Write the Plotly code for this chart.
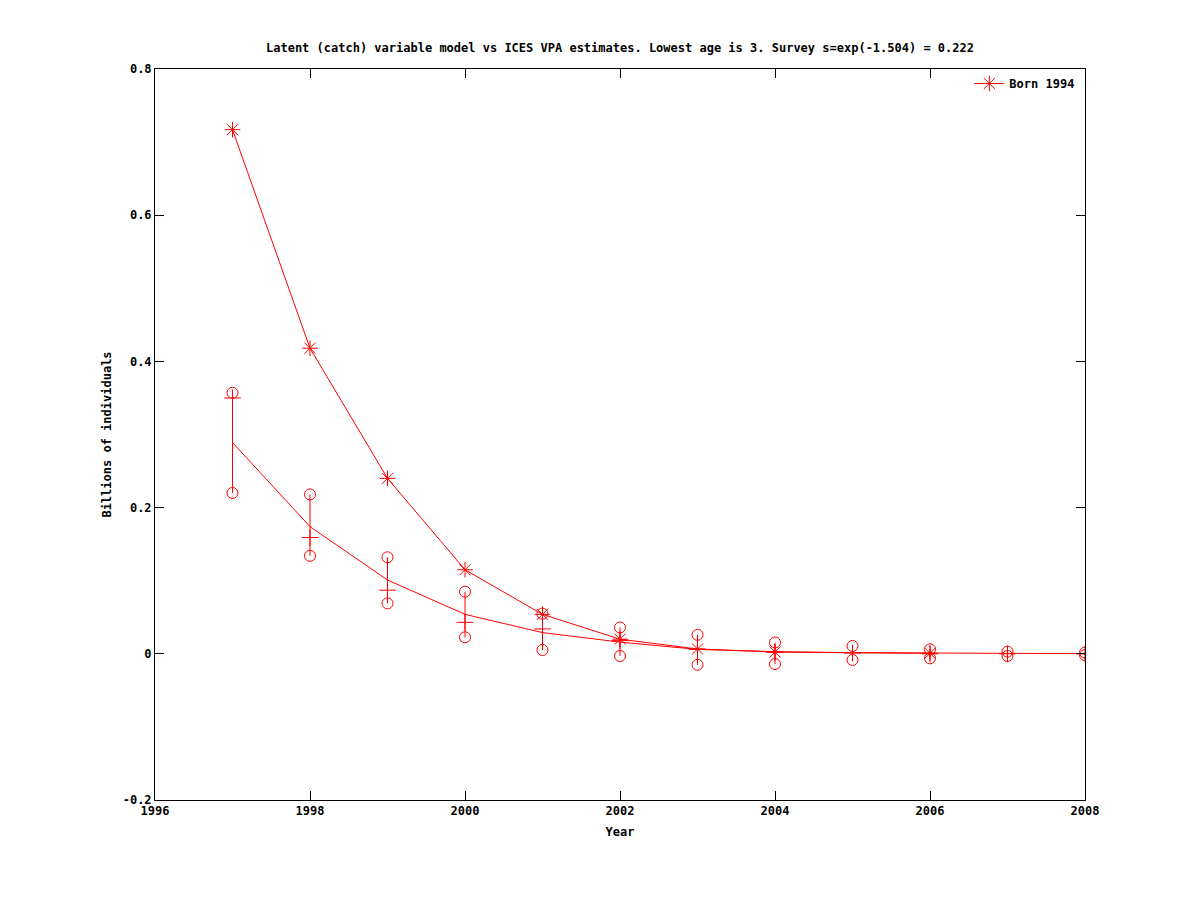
import plotly.graph_objects as go

years = [1997, 1998, 1999, 2000, 2001, 2002, 2003, 2004, 2005, 2006, 2007, 2008]

# Star series ("Born 1994")
star_vals = [0.717, 0.418, 0.240, 0.115, 0.054, 0.020, 0.0066, 0.0023, None, 0.0007, None, None]

# Model line (no markers)
model_vals = [0.289, 0.174, 0.101, 0.054, 0.029, 0.016, 0.006, 0.003, 0.0015, 0.0008, 0.0004, 0.0002]

# Centre estimates ("+" markers) and their interval bounds (circles)
centre_vals = [0.350, 0.159, 0.087, 0.043, 0.034, 0.018, 0.006, 0.002, 0.001, 0.0, 0.0, 0.0]
upper_vals = [0.357, 0.218, 0.132, 0.085, 0.055, 0.036, 0.026, 0.0155, 0.0107, 0.0062, 0.003, 0.0017]
lower_vals = [0.220, 0.134, 0.069, 0.0226, 0.0052, -0.003, -0.0151, -0.014, -0.0085, -0.0062, -0.003, -0.0017]

x_ticks = [1996, 1998, 2000, 2002, 2004, 2006, 2008]
y_ticks = [-0.2, 0.0, 0.2, 0.4, 0.6, 0.8]
y_tick_labels = ["-0.2", "0", "0.2", "0.4", "0.6", "0.8"]

RED = "#ff0000"
FONT = "DejaVu Sans Mono"

err_plus = [u - c for u, c in zip(upper_vals, centre_vals)]
err_minus = [c - l for c, l in zip(centre_vals, lower_vals)]

fig = go.Figure()

fig.add_trace(go.Scatter(
    x=years, y=model_vals, mode="lines",
    line=dict(color=RED, width=1), showlegend=False, hoverinfo="skip"))

fig.add_trace(go.Scatter(
    x=years, y=centre_vals, mode="markers",
    marker=dict(symbol="cross-thin", size=12, line=dict(color=RED, width=1), color=RED),
    error_y=dict(type="data", symmetric=False, array=err_plus, arrayminus=err_minus,
                 color=RED, thickness=1, width=0),
    showlegend=False))

fig.add_trace(go.Scatter(
    x=years, y=upper_vals, mode="markers",
    marker=dict(symbol="circle-open", size=11, line=dict(color=RED, width=1), color=RED),
    showlegend=False))

fig.add_trace(go.Scatter(
    x=years, y=lower_vals, mode="markers",
    marker=dict(symbol="circle-open", size=11, line=dict(color=RED, width=1), color=RED),
    showlegend=False))

fig.add_trace(go.Scatter(
    x=years, y=star_vals, mode="lines+markers", name="Born 1994",
    connectgaps=True,
    line=dict(color=RED, width=1),
    marker=dict(symbol="asterisk-open", size=13, line=dict(color=RED, width=1), color=RED)))

fig.update_layout(
    width=1200, height=900,
    paper_bgcolor="white", plot_bgcolor="white",
    margin=dict(l=147, r=123, t=61, b=108),
    font=dict(family=FONT, size=12, color="black"),
    title=dict(text="Latent (catch) variable model vs ICES VPA estimates. Lowest age is 3. Survey s=exp(-1.504) = 0.222",
               x=612 / 1200, xanchor="center", y=1 - 40 / 900, yanchor="middle",
               font=dict(family=FONT, size=12, color="black", weight="bold")),
    legend=dict(x=0.995, y=1.0, xanchor="right", yanchor="top",
                bgcolor="rgba(0,0,0,0)", borderwidth=0,
                font=dict(family=FONT, size=12, color="black", weight="bold")),
    showlegend=True,
)

fig.update_xaxes(
    range=[1996, 2008], tickvals=x_ticks, ticktext=[str(v) for v in x_ticks],
    showgrid=False, zeroline=False,
    showline=True, linecolor="black", linewidth=1, mirror="ticks",
    ticks="inside", ticklen=9, tickcolor="black", tickwidth=1,
    tickfont=dict(family=FONT, size=12, color="black", weight="bold"),
    title=dict(text="Year", standoff=10, font=dict(family=FONT, size=12, color="black", weight="bold")),
)
fig.update_yaxes(
    range=[-0.2, 0.8], tickvals=y_ticks, ticktext=y_tick_labels,
    showgrid=False, zeroline=False,
    showline=True, linecolor="black", linewidth=1, mirror="ticks",
    ticks="inside", ticklen=9, tickcolor="black", tickwidth=1,
    tickfont=dict(family=FONT, size=12, color="black", weight="bold"),
    title=dict(text="Billions of individuals", standoff=8, font=dict(family=FONT, size=12, color="black", weight="bold")),
)

fig.write_html("out.html")
